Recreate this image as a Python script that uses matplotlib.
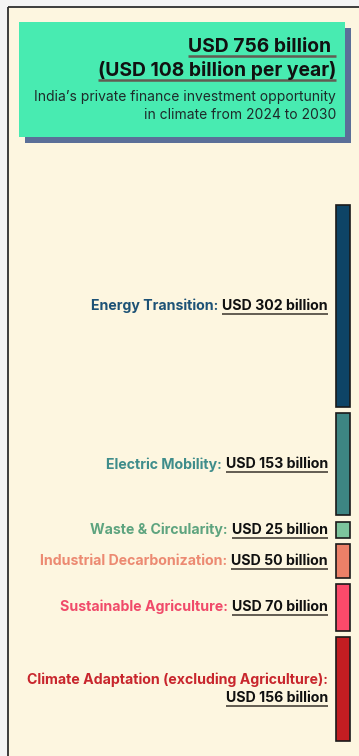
import matplotlib
matplotlib.use('Agg')
import matplotlib.pyplot as plt
from matplotlib.patches import Rectangle
from matplotlib.lines import Line2D
from matplotlib.transforms import blended_transform_factory
import numpy as np

plt.rcParams['font.family'] = ['Inter', 'DejaVu Sans']

# headline card
headline = ['USD 756 billion ', '(USD 108 billion per year)']
subtitle = ['India\u2019s private finance investment opportunity',
            'in climate from 2024 to 2030']

# investment opportunity by sector, USD billion (2024-2030)
categories = ['Energy Transition', 'Electric Mobility', 'Waste & Circularity',
              'Industrial Decarbonization', 'Sustainable Agriculture',
              'Climate Adaptation (excluding Agriculture)']
values = [302, 153, 25, 50, 70, 156]
bar_colors = ['#0e4466', '#3d8583', '#7cc49c', '#ec8068', '#fb4a6a', '#c21d22']
label_colors = ['#1d5276', '#3f8d8b', '#5ea47f', '#ec8a72', '#f04a6a', '#c8262d']

CREAM = '#fdf6e0'
GREEN = '#48ebb1'
SHADOW = '#5b6f98'
FRAME = '#2e2e2e'
ULINE = '#625c52'
LABEL_FS = 10.2

W, H = 359, 756
fig = plt.figure(figsize=(W / 100, H / 100), dpi=100)
fig.patch.set_facecolor('#f4f4f4')

# pixel-space canvas for the frame, card and text
bg = fig.add_axes([0, 0, 1, 1])
bg.set_xlim(0, W)
bg.set_ylim(H, 0)
bg.axis('off')

bg.add_patch(Rectangle((7.5, 6.5), W, H, facecolor=CREAM, edgecolor='none'))
bg.plot([7.5, 7.5], [6.5, H], color=FRAME, lw=1.3, solid_capstyle='butt')
bg.plot([7.5, W], [6.5, 6.5], color=FRAME, lw=1.3, solid_capstyle='butt')

bg.add_patch(Rectangle((25, 28), 326, 115, facecolor=SHADOW, edgecolor='none'))
bg.add_patch(Rectangle((19, 22), 326, 115, facecolor=GREEN, edgecolor='none'))

renderer = fig.canvas.get_renderer()
to_px = bg.transData.inverted()


def px_extent(t):
    bb = t.get_window_extent(renderer)
    (x0, y0), (x1, y1) = to_px.transform([[bb.x0, bb.y0], [bb.x1, bb.y1]])
    return x0, x1, y0, y1   # y0 is the lower edge (larger pixel value)


def underline(t, lw=1.4, offset=-0.8):
    x0, x1, ybot, _ = px_extent(t)
    bg.add_line(Line2D([x0, x1], [ybot - offset, ybot - offset],
                       color=ULINE, lw=lw, solid_capstyle='butt'))


for i, line in enumerate(headline):
    t = bg.text(336, 47.5 + i * 23, line, ha='right', va='center',
                fontsize=13.9, fontweight='bold', color='#111111')
    underline(t, lw=1.8, offset=0.3)

for i, line in enumerate(subtitle):
    bg.text(336, 97 + i * 18, line, ha='right', va='center',
            fontsize=10, color='#1e2a2a')

# stacked sector column
gap = 9
bottoms = np.concatenate([[0], np.cumsum(values)[:-1]]) + gap * np.arange(len(values))
total = bottoms[-1] + values[-1]

bx = fig.add_axes([336 / W, 1 - 741 / H, 14 / W, 536 / H])
bars = bx.bar(0, values, bottom=bottoms, width=1, color=bar_colors,
              edgecolor='#1a1a1a', linewidth=1.2)
for b in bars:
    b.set_clip_on(False)
bx.set_xlim(-0.5, 0.5)
bx.set_ylim(total, 0)
bx.axis('off')

trans = blended_transform_factory(bg.transData, bx.transData)
label_x = 328
for cat, val, bottom, col in zip(categories, values, bottoms, label_colors):
    yc = bottom + val / 2
    vt = bx.text(label_x, yc, f'USD {val} billion', transform=trans,
                 ha='right', va='center', fontsize=LABEL_FS, fontweight='bold',
                 color='#111111')
    x0, _, _, _ = px_extent(vt)
    ct = bx.text(x0 - 4, yc, f'{cat}:', transform=trans, ha='right',
                 va='center', fontsize=LABEL_FS, fontweight='bold', color=col)
    cx0, _, _, _ = px_extent(ct)
    if cx0 < 16:
        # too wide for one line: category on top, amount below
        ct.remove()
        vt.remove()
        yc_px = bx.transData.transform((0, yc))[1]
        yc_px = to_px.transform((0, yc_px))[1]
        bg.text(label_x, yc_px - 9, f'{cat}:', ha='right', va='center',
                fontsize=LABEL_FS, fontweight='bold', color=col)
        vt = bg.text(label_x, yc_px + 9, f'USD {val} billion', ha='right',
                     va='center', fontsize=LABEL_FS, fontweight='bold',
                     color='#111111')
    underline(vt)

fig.savefig('out.png', dpi=100, facecolor=fig.get_facecolor())
